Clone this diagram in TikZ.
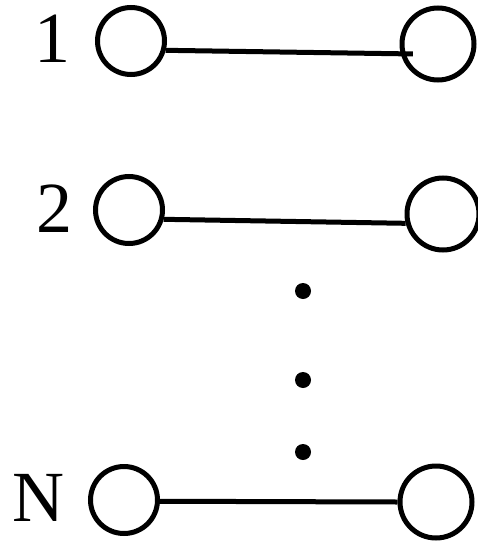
\documentclass[tikz,border=0pt]{standalone}
\usepackage{fontspec}
\setmainfont{Liberation Serif}
\begin{document}
\begin{tikzpicture}[x=1pt,y=-1pt,
  lcirc/.style={circle,draw,line width=5pt,inner sep=0pt,minimum size=67pt},
  rcirc/.style={circle,draw,line width=5pt,inner sep=0pt,minimum size=72pt},
  wire/.style={line width=5pt},
  lbl/.style={anchor=base,inner sep=0pt,font=\fontsize{72}{80}\selectfont},
  dotn/.style={circle,fill,inner sep=0pt,minimum size=16pt}]
\useasboundingbox (0,0) rectangle (478,546);
% row 1
\node[lcirc] (l1) at (131,41) {};
\node[rcirc] (r1) at (438,44) {};
\node[lbl] (t1) at (52.5,62) {1};
\draw[wire] (l1.-15) -- ([xshift=12pt]r1.195);
% row 2
\node[lcirc] (l2) at (129,210) {};
\node[rcirc] (r2) at (443,214) {};
\node[lbl] (t2) at (54.5,232) {2};
\draw[wire] (l2.-15) -- (r2.194);
% dots
\node[dotn] (d1) at (303,291) {};
\node[dotn] (d2) at (303,380) {};
\node[dotn] (d3) at (303,452) {};
% row N
\node[lcirc] (l3) at (124,500) {};
\node[rcirc] (r3) at (436,502) {};
\node[lbl] (t3) at (38,521) {N};
\draw[wire] (l3.-2) -- (r3.west);
\end{tikzpicture}
\end{document}
